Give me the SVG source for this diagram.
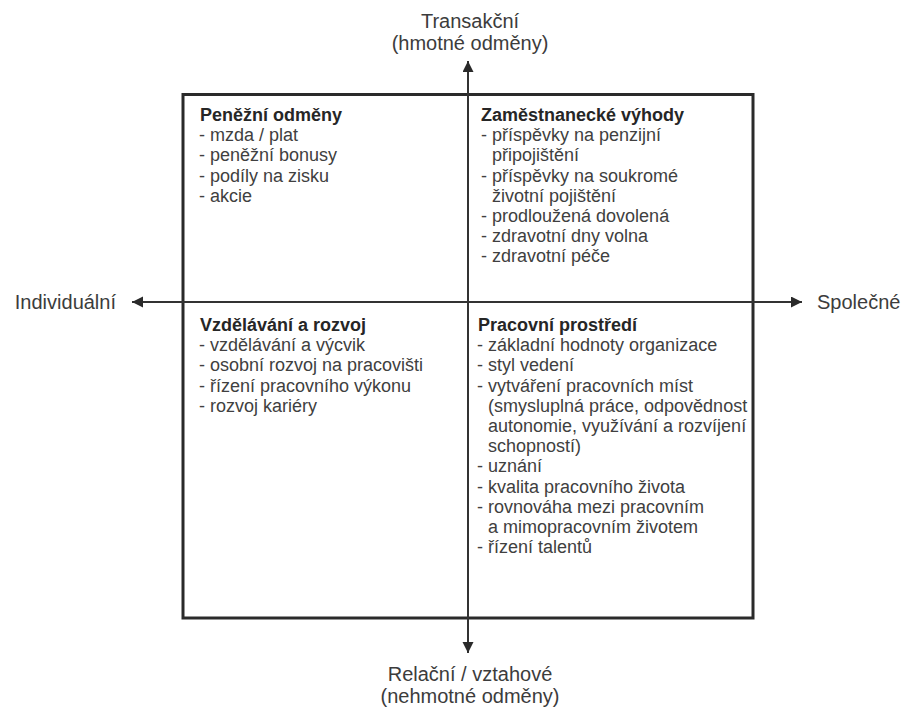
<svg xmlns="http://www.w3.org/2000/svg" width="904" height="709" viewBox="0 0 904 709">
<defs>
<style>
text{font-family:"Liberation Sans",Arial,sans-serif;}
.ax{font-size:20px;fill:#3c3c3c;}
.t{font-size:18px;font-weight:bold;fill:#262626;}
.b{font-size:18px;fill:#404040;}
.box{fill:none;stroke:#2a2a2a;stroke-width:3;}
.axis{fill:none;stroke:#333;stroke-width:2;}
</style>
<marker id="arr" markerUnits="userSpaceOnUse" markerWidth="12" markerHeight="12" refX="11" refY="5.5" orient="auto">
<path d="M0,0 L11,5.5 L0,11 Z" fill="#2a2a2a"/>
</marker>
</defs>
<rect width="904" height="709" fill="#fff"/>
<g id="frame">
<rect class="box" x="183" y="94.5" width="570" height="523.5"/>
</g>
<g id="connectors">
<line class="axis" x1="468" y1="356" x2="468" y2="61" marker-end="url(#arr)"/>
<line class="axis" x1="468" y1="356" x2="468" y2="653" marker-end="url(#arr)"/>
<line class="axis" x1="468" y1="302" x2="132" y2="302" marker-end="url(#arr)"/>
<line class="axis" x1="468" y1="302" x2="802" y2="302" marker-end="url(#arr)"/>
</g>
<g id="label-top">
<text class="ax" x="470" y="28" text-anchor="middle">Transakční</text>
<text class="ax" x="470" y="50" text-anchor="middle">(hmotné odměny)</text>
</g>
<g id="label-bottom">
<text class="ax" x="470" y="681" text-anchor="middle">Relační / vztahové</text>
<text class="ax" x="470" y="703" text-anchor="middle">(nehmotné odměny)</text>
</g>
<g id="label-left">
<text class="ax" x="116" y="309" text-anchor="end">Individuální</text>
</g>
<g id="label-right">
<text class="ax" x="817" y="309">Společné</text>
</g>
<g id="q-top-left">
<text class="t" x="200" y="121">Peněžní odměny</text>
<text class="b" x="199" y="141.2">- mzda / plat</text>
<text class="b" x="199" y="161.4">- peněžní bonusy</text>
<text class="b" x="199" y="181.6">- podíly na zisku</text>
<text class="b" x="199" y="201.8">- akcie</text>
</g>
<g id="q-top-right">
<text class="t" x="481" y="121">Zaměstnanecké výhody</text>
<text class="b" x="481" y="141.2">- příspěvky na penzijní</text>
<text class="b" x="492" y="161.4">připojištění</text>
<text class="b" x="481" y="181.6">- příspěvky na soukromé</text>
<text class="b" x="492" y="201.8">životní pojištění</text>
<text class="b" x="481" y="222">- prodloužená dovolená</text>
<text class="b" x="481" y="242.2">- zdravotní dny volna</text>
<text class="b" x="481" y="262.4">- zdravotní péče</text>
</g>
<g id="q-bottom-left">
<text class="t" x="200" y="331">Vzdělávání a rozvoj</text>
<text class="b" x="199" y="351.2">- vzdělávání a výcvik</text>
<text class="b" x="199" y="371.4">- osobní rozvoj na pracovišti</text>
<text class="b" x="199" y="391.6">- řízení pracovního výkonu</text>
<text class="b" x="199" y="411.8">- rozvoj kariéry</text>
</g>
<g id="q-bottom-right">
<text class="t" x="478" y="331">Pracovní prostředí</text>
<text class="b" x="477" y="351.2">- základní hodnoty organizace</text>
<text class="b" x="477" y="371.4">- styl vedení</text>
<text class="b" x="477" y="391.6">- vytváření pracovních míst</text>
<text class="b" x="488" y="411.8">(smysluplná práce, odpovědnost</text>
<text class="b" x="488" y="432">autonomie, využívání a rozvíjení</text>
<text class="b" x="488" y="452.2">schopností)</text>
<text class="b" x="477" y="472.4">- uznání</text>
<text class="b" x="477" y="492.6">- kvalita pracovního života</text>
<text class="b" x="477" y="512.8">- rovnováha mezi pracovním</text>
<text class="b" x="488" y="533">a mimopracovním životem</text>
<text class="b" x="477" y="553.2">- řízení talentů</text>
</g>
</svg>
